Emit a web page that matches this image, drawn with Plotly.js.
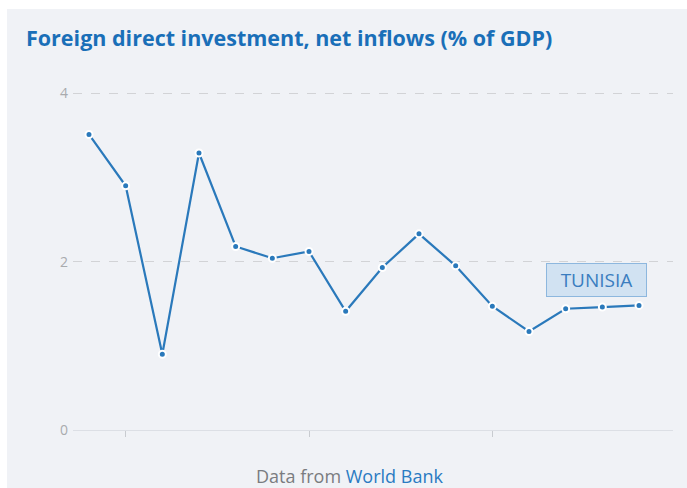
<!DOCTYPE html>
<html>
<head>
<meta charset="utf-8">
<script src="https://cdn.plot.ly/plotly-3.0.1.min.js"></script>
<style>html,body{margin:0;padding:0;background:#fff;}#chart{width:687px;height:488px;}</style>
</head>
<body>
<div id="chart"></div>
<script>
const years = [2009, 2010, 2011, 2012, 2013, 2014, 2015, 2016, 2017, 2018, 2019, 2020, 2021, 2022, 2023, 2024];
const fdiPctGdp = [3.51, 2.90, 0.90, 3.29, 2.18, 2.04, 2.12, 1.41, 1.93, 2.33, 1.95, 1.47, 1.17, 1.44, 1.46, 1.48];
const xTickYears = [2010, 2015, 2020];
const yTicks = [0, 2, 4];
const countryLabel = "TUNISIA";
const titleText = "Foreign direct investment, net inflows (% of GDP)";

const trace = {
  x: years,
  y: fdiPctGdp,
  type: 'scatter',
  mode: 'lines+markers',
  line: {color: '#2a79bb', width: 2.2},
  marker: {color: '#2a79bb', size: 7, line: {color: '#ffffff', width: 2}},
  hoverinfo: 'x+y'
};

const layout = {
  width: 687, height: 488,
  margin: {l: 73, r: 14, t: 89, b: 58},
  paper_bgcolor: '#ffffff',
  plot_bgcolor: 'rgba(0,0,0,0)',
  showlegend: false,
  font: {family: '"Open Sans", sans-serif'},
  title: {
    text: titleText,
    font: {family: '"Open Sans", sans-serif', size: 21.5, color: '#1a6fb8', weight: 'bold'},
    x: 26/687, xanchor: 'left', xref: 'container',
    y: 1 - 38/488, yanchor: 'middle', yref: 'container'
  },
  xaxis: {
    range: [2008.564, 2024.927],
    tickvals: xTickYears,
    showticklabels: false,
    ticks: 'outside', ticklen: 6, tickwidth: 1, tickcolor: '#c8cbd0',
    showgrid: false, zeroline: false, showline: false,
    fixedrange: true
  },
  yaxis: {
    range: [0, 4.05],
    tickvals: yTicks,
    ticktext: yTicks.map(String),
    tickfont: {size: 14, color: '#a9abae'},
    showgrid: true, gridcolor: '#d2d3d6', griddash: 'dash', gridwidth: 1,
    zeroline: true, zerolinecolor: '#dcdfe5', zerolinewidth: 1,
    showline: false, ticks: '', ticklabelstandoff: 4,
    fixedrange: true
  },
  shapes: [{
    type: 'rect', xref: 'paper', yref: 'paper', layer: 'below',
    x0: (7 - 73) / 600, x1: (700 - 73) / 600,
    y0: (430 - 500) / 341, y1: (430 - 9) / 341,
    fillcolor: '#f0f2f6', line: {width: 0}
  }],
  annotations: [
    {
      x: 2022.85, y: 1.78, xref: 'x', yref: 'y',
      text: countryLabel, showarrow: false,
      font: {size: 19, color: '#3a7dbf'},
      bgcolor: '#d1e2f2', bordercolor: '#8db7de', borderwidth: 1, borderpad: 3,
      width: 93, height: 26
    },
    {
      x: (349 - 73) / 600, y: (430 - 476) / 341, xref: 'paper', yref: 'paper',
      xanchor: 'center', yanchor: 'middle', showarrow: false,
      text: '<span style="color:#7a7c80">Data from </span><span style="color:#2a7bc2">World Bank</span>',
      font: {size: 18}
    }
  ]
};

Plotly.newPlot('chart', [trace], layout, {displayModeBar: false, staticPlot: true});
</script>
</body>
</html>
